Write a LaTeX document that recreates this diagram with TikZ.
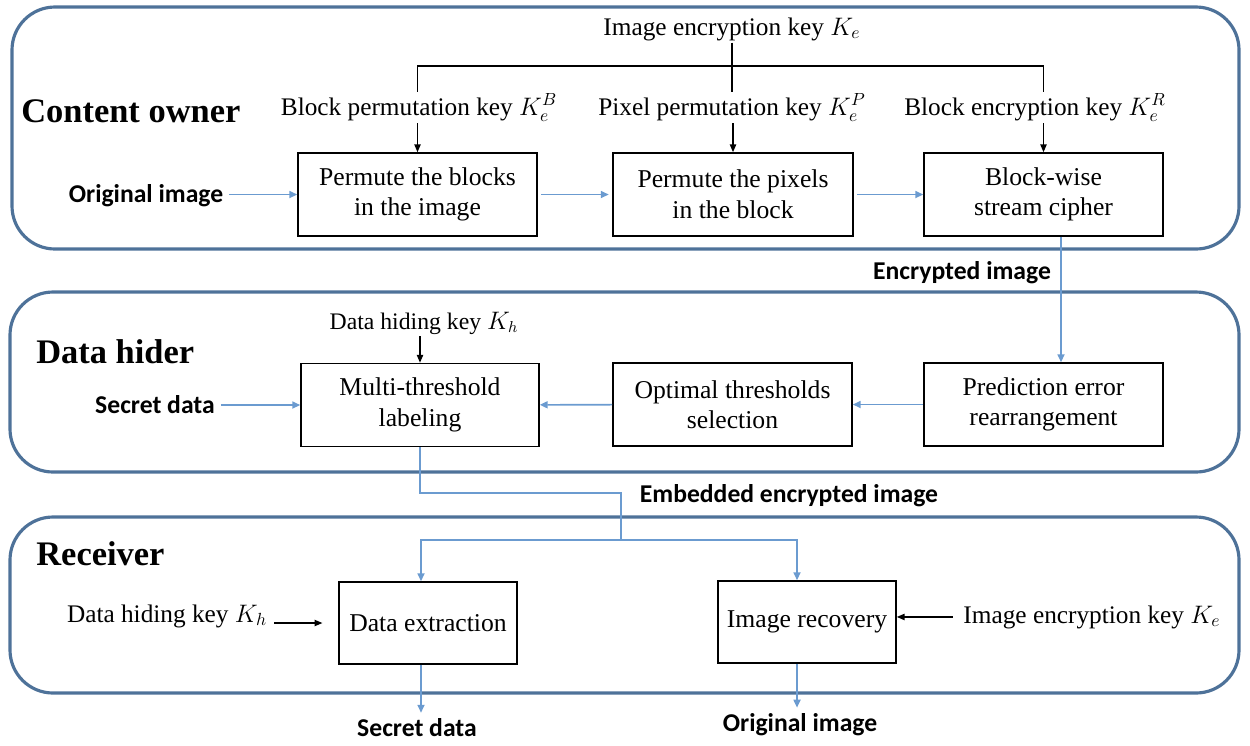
\documentclass[tikz,border=0pt]{standalone}
\usepackage{fontspec}
\setmainfont{Liberation Serif}
\newfontfamily\sansbold{Carlito}
\usetikzlibrary{arrows.meta}
\definecolor{panelblue}{HTML}{4E7299}
\definecolor{flowblue}{HTML}{6B9BD0}
\begin{document}
\begin{tikzpicture}[
x=0.02cm,y=-0.02cm,
panel/.style={draw=panelblue,line width=1.8pt,rounded corners=0.86cm},
box/.style={draw,line width=0.9pt,minimum width=4.78cm,minimum height=1.66cm,align=center,font=\fontsize{14.6}{17.4}\selectfont},
keytext/.style={inner sep=1pt,font=\fontsize{14.4}{17}\selectfont},
role/.style={anchor=base west,inner sep=0pt,font=\fontsize{19.6}{22}\selectfont\bfseries},
data/.style={font=\sansbold\fontsize{14.6}{17}\selectfont\bfseries},
flow/.style={draw=flowblue,line width=0.9pt,-{Triangle[length=4.5pt,width=4pt]}},
link/.style={draw=flowblue,line width=0.9pt},
keyline/.style={draw,line width=0.8pt},
keyarrow/.style={keyline,-{Triangle[length=4.5pt,width=3.6pt]}},
]
\useasboundingbox (0,0) rectangle (1250,745);
\draw[panel] (12,7) rectangle (1239,249);
\draw[panel] (10,292) rectangle (1239,472);
\draw[panel] (10,517) rectangle (1239,693);

\node[box] (b1) at (417.5,194.5) {Permute the blocks\\in the image};
\node[box,minimum width=4.8cm] (b2) at (733,194.5) {Permute the pixels\\in the block};
\node[box] (b3) at (1043.5,194.5) {Block-wise\\stream cipher};
\node[box,minimum width=4.76cm] (b4) at (420,405) {Multi-threshold\\labeling};
\node[box] (b5) at (732.5,404.5) {Optimal thresholds\\selection};
\node[box] (b6) at (1043.5,404.5) {Prediction error\\rearrangement};
\node[box,minimum width=3.56cm,minimum height=1.64cm] (b7) at (428,623) {Data extraction};
\node[box,minimum width=3.56cm,minimum height=1.64cm] (b8) at (807,622) {Image recovery};

\node[role] (owner) at (21,122) {Content owner};
\node[role] (hider) at (36,363) {Data hider};
\node[role] (receiver) at (36,565) {Receiver};

\node[keytext,anchor=base] (kall) at (732,35) {Image encryption key $K_e$};
\node[keytext,anchor=base] (kb) at (419,115) {Block permutation key $K_e^B$};
\node[keytext,anchor=base] (kp) at (732,115) {Pixel permutation key $K_e^P$};
\node[keytext,anchor=base] (kr) at (1035,115) {Block encryption key $K_e^R$};
\coordinate (kesplit) at (732,66);
\draw[keyline] (kall) -- (kp);
\draw[keyline] (kb.north -| b1) |- (kesplit) -| (kr.north -| b3);
\draw[keyarrow] (kb.south -| b1) -- (b1.north);
\draw[keyarrow] (kp.south -| b2) -- (b2.north);
\draw[keyarrow] (kr.south -| b3) -- (b3.north);

\node[data] (oi) at (146,196) {Original image};
\draw[flow] (oi.east |- b1) -- (b1);
\draw[flow,shorten <=2pt,shorten >=2pt] (b1) -- (b2);
\draw[flow,shorten <=2pt] (b2) -- (b3);
\coordinate (encx) at (1061,0);
\draw[flow] (b3.south -| encx) -- (b6.north -| encx);
\node[data] (enc) at (962,273) {Encrypted image};

\node[keytext,anchor=base,font=\fontsize{13.5}{16}\selectfont] (kh) at (424,329) {Data hiding key $K_h$};
\draw[keyarrow] (kh.south -| b4) -- (b4.north);
\node[data] (sd) at (155,405) {Secret data};
\draw[flow] (sd) -- (b4);
\draw[flow] (b6) -- (b5);
\draw[flow] (b5) -- (b4);

\coordinate (hop) at (621,493);
\coordinate (fork) at (621,540);
\coordinate (toext) at (421,540);
\coordinate (torec) at (797,540);
\draw[link] (b4.south) |- (hop) -- (fork);
\draw[flow] (fork) -- (toext) -- (toext |- b7.north);
\draw[flow] (fork) -- (torec) -- (torec |- b8.north);
\node[data] (emb) at (789,496) {Embedded encrypted image};

\node[keytext,anchor=base] (kh2) at (167,622) {Data hiding key $K_h$};
\draw[keyarrow,shorten <=3pt,shorten >=9pt] (kh2.east |- b7) -- (b7.west);
\node[keytext,anchor=base] (ke2) at (1092,623) {Image encryption key $K_e$};
\draw[keyarrow,shorten <=5pt] (ke2.west) -- (ke2.west -| b8.east);

\node[data] (sd2) at (417,728) {Secret data};
\node[data] (oi2) at (800,725) {Original image};
\draw[flow] (b7.south -| toext) -- (toext |- sd2.north);
\draw[flow] (b8.south -| torec) -- (torec |- oi2.north);
\end{tikzpicture}
\end{document}
